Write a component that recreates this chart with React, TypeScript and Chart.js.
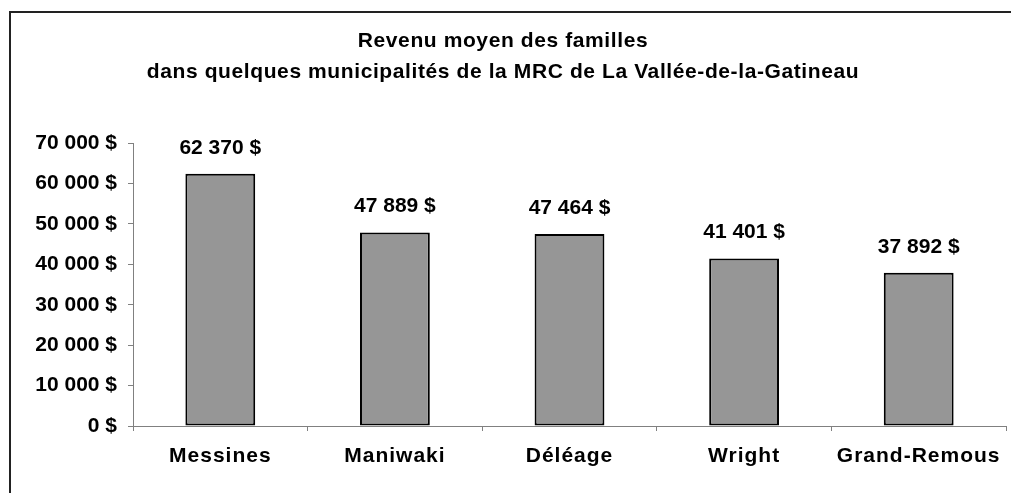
import React, { useEffect, useRef } from "react";
import { Chart, registerables } from "chart.js";

Chart.register(...registerables);

const categories = ["Messines", "Maniwaki", "Déléage", "Wright", "Grand-Remous"];
const revenus = [62370, 47889, 47464, 41401, 37892];
const titleLines = [
  "Revenu moyen des familles",
  "dans quelques municipalités de la MRC de La Vallée-de-la-Gatineau",
];
const yMin = 0;
const yMax = 70000;
const yStep = 10000;

const FONT = "'Liberation Sans', Arial, sans-serif";
const FS = 21;

function fmt(n: number): string {
  return String(n).replace(/\B(?=(\d{3})+(?!\d))/g, " ") + " $";
}

const framePlugin = {
  id: "frame",
  afterDraw(chart: any) {
    const ctx = chart.ctx;
    ctx.save();
    ctx.strokeStyle = "#222";
    ctx.lineWidth = 2;
    ctx.beginPath();
    ctx.moveTo(10, chart.height + 5);
    ctx.lineTo(10, 12);
    ctx.lineTo(chart.width + 5, 12);
    ctx.stroke();
    ctx.restore();
  },
};

const spacingPlugin = {
  id: "spacing",
  beforeDraw(chart: any) {
    const x = chart.scales.x;
    if (x && !x.__patched) {
      const orig = x.drawLabels.bind(x);
      x.drawLabels = (area: any) => {
        const ctx = chart.ctx;
        ctx.save();
        (ctx as any).letterSpacing = "1px";
        orig(area);
        ctx.restore();
      };
      x.__patched = true;
    }
    const t = chart.titleBlock;
    if (t && !t.__patched) {
      const origT = t.draw.bind(t);
      t.draw = (area: any) => {
        const ctx = chart.ctx;
        ctx.save();
        (ctx as any).letterSpacing = "0.6px";
        origT(area);
        ctx.restore();
      };
      t.__patched = true;
    }
  },
};

const valueLabelPlugin = {
  id: "valueLabels",
  afterDatasetsDraw(chart: any) {
    const ctx = chart.ctx;
    const meta = chart.getDatasetMeta(0);
    const data = chart.data.datasets[0].data as number[];
    ctx.save();
    ctx.font = `bold ${FS}px ${FONT}`;
    ctx.fillStyle = "#000";
    ctx.textAlign = "center";
    ctx.textBaseline = "middle";
    meta.data.forEach((bar: any, i: number) => {
      ctx.fillText(fmt(data[i]), bar.x, bar.y - 26);
    });
    ctx.restore();
  },
};

export default function App() {
  const ref = useRef<HTMLCanvasElement | null>(null);
  useEffect(() => {
    if (!ref.current) return;
    const chart = new Chart(ref.current, {
      type: "bar",
      data: {
        labels: categories,
        datasets: [
          {
            data: revenus,
            backgroundColor: "#969696",
            borderColor: "#000",
            borderWidth: 2,
            borderSkipped: false,
            categoryPercentage: 0.8,
            barPercentage: 0.5,
          },
        ],
      },
      options: {
        responsive: false,
        animation: false,
        devicePixelRatio: 1,
        layout: { padding: { top: 0, right: 5, bottom: 0, left: 0 } },
        plugins: {
          legend: { display: false },
          tooltip: { enabled: false },
          title: {
            display: true,
            text: titleLines,
            color: "#000",
            font: { family: FONT, size: FS, weight: "bold", lineHeight: 31 / FS },
            padding: { top: 25.5, bottom: 55.5 },
          },
        },
        scales: {
          x: {
            grid: {
              drawOnChartArea: false,
              drawTicks: true,
              tickLength: 5,
              color: "#808080",
              offset: true,
            },
            border: { color: "#808080", width: 1 },
            ticks: {
              color: "#000",
              font: { family: FONT, size: FS, weight: "bold" },
              padding: 13,
              maxRotation: 0,
              autoSkip: false,
            },
            afterFit: (s: any) => {
              s.height = 67;
            },
          },
          y: {
            min: yMin,
            max: yMax,
            grid: {
              drawOnChartArea: false,
              drawTicks: true,
              tickLength: 5,
              color: "#808080",
            },
            border: { color: "#808080", width: 1 },
            ticks: {
              stepSize: yStep,
              color: "#000",
              font: { family: FONT, size: FS, weight: "bold" },
              padding: 11,
              callback: (v: any) => fmt(Number(v)),
            },
            afterFit: (s: any) => {
              s.width = 133;
            },
          },
        },
      },
      plugins: [spacingPlugin, valueLabelPlugin, framePlugin],
    } as any);
    return () => chart.destroy();
  }, []);
  return (
    <div style={{ position: "absolute", left: 0, top: 0, width: 1011, height: 493, background: "#fff" }}>
      <canvas ref={ref} width={1011} height={493} style={{ display: "block" }} />
    </div>
  );
}
